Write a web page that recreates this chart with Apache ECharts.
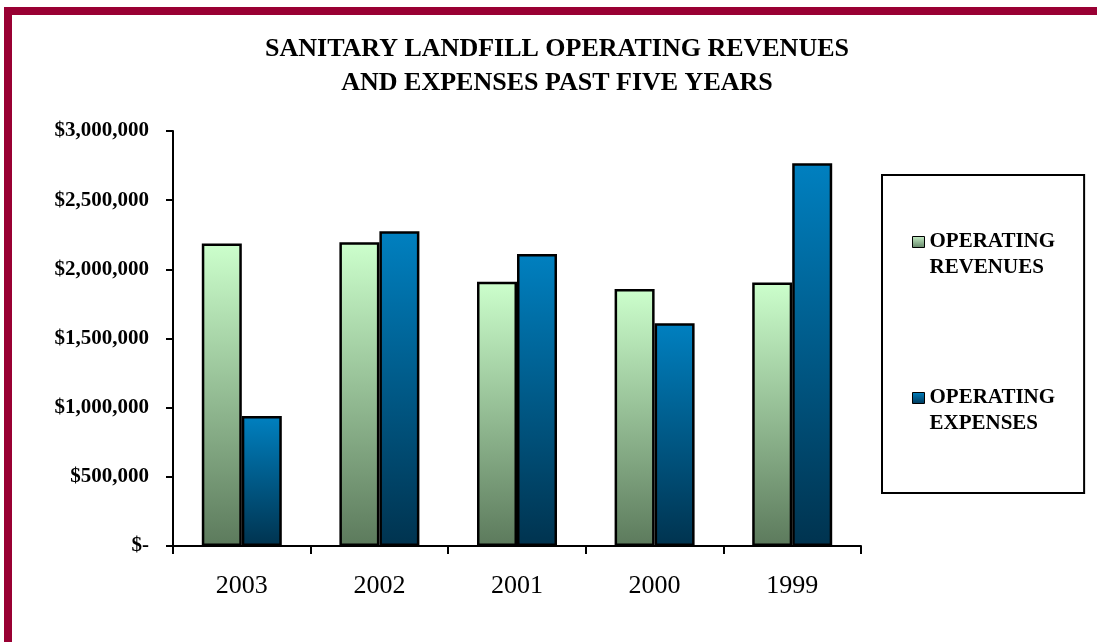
<!DOCTYPE html>
<html>
<head>
<meta charset="utf-8">
<title>Sanitary Landfill Operating Revenues and Expenses</title>
<script src="https://cdn.jsdelivr.net/npm/echarts@6/dist/echarts.min.js"></script>
<style>
  html, body { margin: 0; padding: 0; background: #ffffff; }
  #chart { width: 1097px; height: 642px; }
</style>
</head>
<body>
<div id="chart"></div>
<script>
// Fiscal years, most recent first
const years = ['2003', '2002', '2001', '2000', '1999'];
// Operating revenues and expenses in dollars
const revenues = [2187000, 2195000, 1910000, 1858000, 1905000];
const expenses = [940000, 2275000, 2110000, 1610000, 2767000];
// Value axis range
const yMin = 0;
const yMax = 3000000;
const yStep = 500000;

const serif = "'Liberation Serif', 'Times New Roman', 'DejaVu Serif', serif";

function vGrad(top, bottom) {
  return new echarts.graphic.LinearGradient(0, 0, 0, 1, [
    { offset: 0, color: top },
    { offset: 1, color: bottom }
  ]);
}
function iconGrad(top, bottom) {
  return new echarts.graphic.LinearGradient(0, 0, 0, 1, [
    { offset: 0, color: top },
    { offset: 0.3, color: bottom },
    { offset: 1, color: bottom }
  ]);
}

const revName = 'OPERATING REVENUES';
const expName = 'OPERATING EXPENSES';

const chart = echarts.init(document.getElementById('chart'), null, { renderer: 'canvas' });

chart.setOption({
  backgroundColor: '#ffffff',
  animation: false,
  title: {
    text: 'SANITARY LANDFILL OPERATING REVENUES\nAND EXPENSES PAST FIVE YEARS',
    left: 557,
    top: 32,
    textAlign: 'center',
    padding: 0,
    textStyle: {
      fontFamily: serif,
      fontWeight: 'bold',
      fontSize: 26,
      lineHeight: 34,
      color: '#000000'
    }
  },
  graphic: [
    { type: 'rect', shape: { x: 4, y: 7, width: 1093, height: 8 }, style: { fill: '#990033' }, silent: true },
    { type: 'rect', shape: { x: 4, y: 7, width: 8, height: 635 }, style: { fill: '#990033' }, silent: true }
  ],
  legend: {
    orient: 'vertical',
    left: 882,
    top: 175,
    padding: [54, 29, 56, 30],
    borderColor: '#000000',
    borderWidth: 2,
    itemWidth: 12,
    itemHeight: 37,
    itemGap: 104,
    selectedMode: false,
    icon: 'path://M0,0L12,0L12,11L0,11Z M0,37',
    formatter: function (name) { return name.replace(' ', '\n'); },
    textStyle: {
      fontFamily: serif,
      fontWeight: 'bold',
      fontSize: 21,
      lineHeight: 26,
      color: '#000000'
    },
    data: [
      { name: revName, itemStyle: { color: iconGrad('#c8f0c8', '#66886a'), borderColor: '#000', borderWidth: 1 } },
      { name: expName, itemStyle: { color: iconGrad('#0080c0', '#003a5c'), borderColor: '#000', borderWidth: 1 } }
    ]
  },
  grid: {
    left: 173,
    right: 236,
    top: 131,
    bottom: 96,
    containLabel: false
  },
  xAxis: {
    type: 'category',
    data: years,
    boundaryGap: true,
    axisLine: { lineStyle: { color: '#000000', width: 2 } },
    axisTick: { show: true, length: 8, lineStyle: { color: '#000000', width: 2 } },
    axisLabel: {
      margin: 27,
      fontFamily: serif,
      fontSize: 26,
      color: '#000000'
    },
    splitLine: { show: false }
  },
  yAxis: {
    type: 'value',
    min: yMin,
    max: yMax,
    interval: yStep,
    axisLine: { show: true, lineStyle: { color: '#000000', width: 2 } },
    axisTick: { show: true, length: 7, lineStyle: { color: '#000000', width: 2 } },
    axisLabel: {
      margin: 24,
      fontFamily: serif,
      fontWeight: 'bold',
      fontSize: 21,
      color: '#000000',
      formatter: function (v) {
        return v === 0 ? '$-' : '$' + v.toLocaleString('en-US');
      }
    },
    splitLine: { show: false }
  },
  series: [
    {
      name: revName,
      type: 'bar',
      data: revenues,
      barWidth: 40,
      barGap: '0%',
      itemStyle: { color: vGrad('#ccffcc', '#5c7a5c'), borderColor: '#000000', borderWidth: 2.5 }
    },
    {
      name: expName,
      type: 'bar',
      data: expenses,
      barWidth: 40,
      barGap: '0%',
      itemStyle: { color: vGrad('#0080c0', '#00334f'), borderColor: '#000000', borderWidth: 2.5 }
    }
  ]
});
</script>
</body>
</html>
